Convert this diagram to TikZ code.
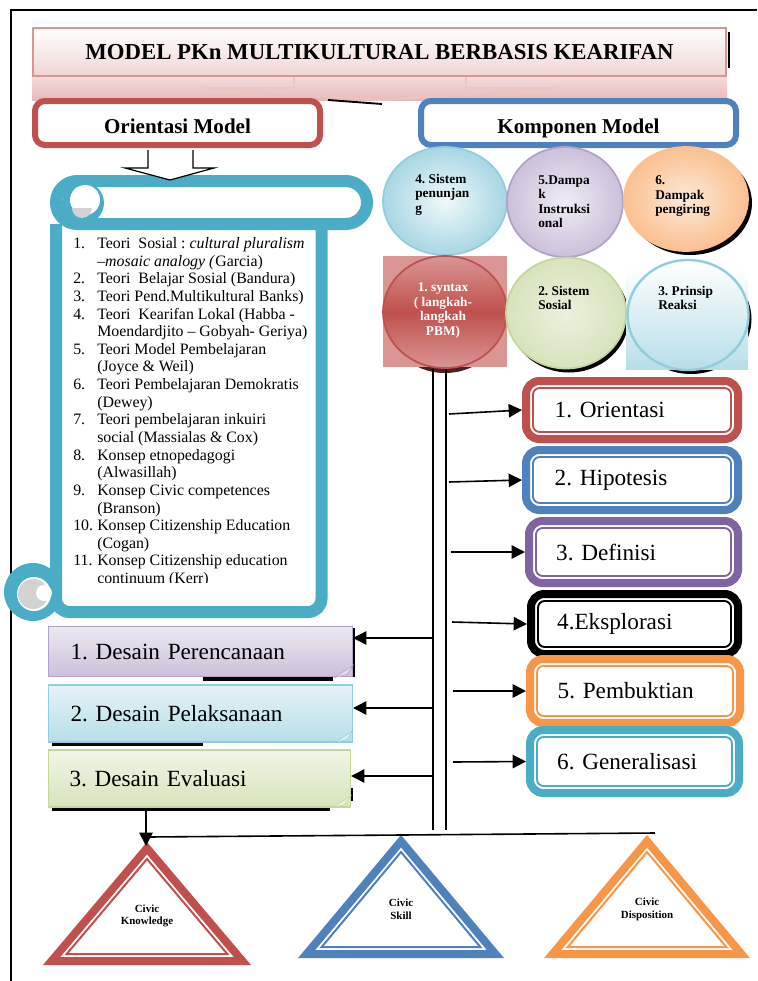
\documentclass[tikz,border=0pt]{standalone}
\usepackage{fontspec}
\setmainfont{Liberation Serif}
\usetikzlibrary{shapes.geometric,arrows.meta,calc}
\definecolor{cred}{HTML}{C0504D}
\definecolor{cblue}{HTML}{4F81BD}
\definecolor{cpurple}{HTML}{8064A2}
\definecolor{corange}{HTML}{F79646}
\definecolor{cteal}{HTML}{4BACC6}
\definecolor{cpink}{HTML}{D99594}
\definecolor{cpinkL}{HTML}{E6B9B8}
\definecolor{cpinkLL}{HTML}{F2DCDB}
\definecolor{tealL}{HTML}{B7DEE8}
\definecolor{tealLL}{HTML}{DAEEF3}
\definecolor{tealM}{HTML}{92CDDC}
\definecolor{purL}{HTML}{CCC0DA}
\definecolor{purLL}{HTML}{E5E0EC}
\definecolor{purM}{HTML}{B2A1C7}
\definecolor{orLL}{HTML}{FDE9D9}
\definecolor{orM}{HTML}{FAC090}
\definecolor{grL}{HTML}{D7E3BC}
\definecolor{grLL}{HTML}{EBF1DD}
\definecolor{grM}{HTML}{C3D69B}
\definecolor{redM}{HTML}{D99694}
\newcommand{\lnum}[1]{\makebox[18pt][l]{#1}}
\frenchspacing
\begin{document}
\begin{tikzpicture}[x=0.75pt,y=-0.75pt,
 hdr/.style={draw=#1, line width=4.5pt, rounded corners=7.5pt, fill=white, minimum height=33pt, inner sep=0pt, text height=15pt, text depth=0pt, font=\fontsize{15.8}{18}\selectfont\bfseries},
 oval/.style={ellipse, draw=#1, line width=1.3pt, inner sep=0pt},
 otext/.style={inner sep=0pt, align=left, font=\fontsize{10}{10.9}\selectfont\bfseries},
 stepbox/.style={draw=#1, line width=6pt, rounded corners=10pt, fill=white, text width=116pt, align=left, inner xsep=0pt, inner ysep=0pt, font=\fontsize{17.4}{20}\selectfont},
 dbox/.style={draw=#1, line width=0.8pt, text width=195pt, align=left, inner xsep=0pt, minimum width=228pt, font=\fontsize{17.4}{20}\selectfont},
 arr/.style={line width=1.2pt, -{Triangle[length=10pt,width=10pt]}},
 rail/.style={line width=1.1pt},
 tri/.style={line width=6pt, line join=miter, draw=#1},
 trin/.style={line width=1.5pt, draw=#1},
 ttext/.style={align=center, inner sep=0pt, font=\fontsize{8.2}{9.5}\selectfont\bfseries}]
\useasboundingbox (0,0) rectangle (757,981);
% frame
\draw[line width=1.1pt] (757,10) -- (11,10) -- (11,981);
% title band with arrow
\fill[top color=cpinkLL, bottom color=cpinkL] (32,77) rectangle (727,100);
\draw[cpink!55!white, line width=1.3pt, line join=round] (294,77) -- (294,88) -- (206,88) -- (383,100) -- (554,88) -- (466,88) -- (466,77);
\draw[line width=1.4pt] (328,100) -- (382,104);
\draw[line width=1.3pt] (729,32) -- (729,68);
\node[draw=cpink, line width=1.2pt, top color=white, bottom color=cpinkLL!80!cpinkL, minimum width=519.75pt, minimum height=36.3pt, inner sep=0pt, font=\fontsize{17.1}{20}\selectfont\bfseries] (title) at (379.5,52) {MODEL PKn MULTIKULTURAL BERBASIS KEARIFAN};
% headers
\node[hdr=cred, minimum width=213.75pt] (orient) at (177.5,123) {Orientasi Model};
\node[hdr=cblue, minimum width=236.25pt] (komp) at (578.5,123) {Komponen Model};
% scroll
\draw[cteal, line width=9pt, fill=white, rounded corners=10pt] (56,224) -- (56,612) -- (321.5,612) -- (321.5,224);
\draw[cteal, line width=9pt, fill=white, rounded corners=16pt] (56,181) rectangle (367,224);
\fill[cteal] (83,203) circle (21);
\fill[white] (85,200) circle (15);
\fill[gray!35] (92,208) arc (0:180:10) -- cycle;
\fill[cteal] (33,592) circle (29);
\fill[white] (34,594) circle (17);
\fill[gray!35] (33,594) circle (15);
\fill[white] (44,593) circle (8);
% block arrow
\draw[line width=0.9pt, fill=white] (148,150) -- (148,168) -- (125,168) -- (170,180) -- (214,168) -- (193,168) -- (193,150);
\begin{scope}
\clip (62,228) rectangle (318,582);
\node[anchor=north west, inner sep=0pt, font=\fontsize{11.9}{13.22}\selectfont] (list) at (73,236) {\begin{tabular}{@{}l@{}l@{}}
\lnum{1.} & Teori\ \ Sosial : \textit{cultural pluralism}\\
 & \textit{--mosaic analogy (}Garcia)\\
\lnum{2.} & Teori\ \ Belajar Sosial (Bandura)\\
\lnum{3.} & Teori Pend.Multikultural Banks)\\
\lnum{4.} & Teori\ \ Kearifan Lokal (Habba -\\
 & Moendardjito -- Gobyah- Geriya)\\
\lnum{5.} & Teori Model Pembelajaran\\
 & (Joyce \& Weil)\\
\lnum{6.} & Teori Pembelajaran Demokratis\\
 & (Dewey)\\
\lnum{7.} & Teori pembelajaran inkuiri\\
 & social (Massialas \& Cox)\\
\lnum{8.} & Konsep etnopedagogi\\
 & (Alwasillah)\\
\lnum{9.} & Konsep Civic competences\\
 & (Branson)\\
\lnum{10.} & Konsep Citizenship Education\\
 & (Cogan)\\
\lnum{11.} & Konsep Citizenship education\\
 & continuum (Kerr)
\end{tabular}};
\end{scope}
% component ovals: shadows and backgrounds
\fill[black] (690,203) ellipse [x radius=62, y radius=52];
\fill[black] (569,317) ellipse [x radius=60, y radius=55.5];
\fill[black] (691,319) ellipse [x radius=60.5, y radius=55];
\fill[black!60!cred] (445,317) ellipse [x radius=60, y radius=56];
\fill[redM] (383,256) rectangle (507,367);
\fill[top color=white, bottom color=tealL] (626,268) rectangle (748,369);
\node[oval=tealM, inner color=tealLL!40!white, outer color=tealL!85!cteal, minimum width=93pt, minimum height=81pt] (e4) at (445,201) {};
\node[oval=purM, inner color=purLL!60!white, outer color=purL, minimum width=87pt, minimum height=82.5pt] (e5) at (565,202) {};
\node[oval=orM, inner color=orLL, outer color=orM, minimum width=93pt, minimum height=78pt] (e6) at (686,199) {};
\node[oval=cred, top color=redM, bottom color=redM, middle color=cred, minimum width=93pt, minimum height=84pt] (syn) at (445,312) {};
\node[oval=grM, inner color=grLL, outer color=grL, minimum width=90pt, minimum height=83.25pt] (e2) at (566,313) {};
\node[oval=tealM, line width=1.8pt, top color=white, bottom color=tealL, minimum width=90.75pt, minimum height=82.5pt] (e3) at (688,315) {};
\node[otext, anchor=west] (e4t) at (415,194.5) {4. Sistem\\penunjan\\g};
\node[otext, anchor=west] (e5t) at (538,201.5) {5.Dampa\\k\\Instruksi\\onal};
\node[otext, anchor=west] (e6t) at (655,196.5) {6.\\Dampak\\pengiring};
\node[otext, align=center, text=white] (synt) at (443,310.5) {1. syntax\\( langkah-\\langkah\\PBM)};
\node[otext, anchor=west] (e2t) at (538,298) {2. Sistem\\Sosial};
\node[otext, anchor=west] (e3t) at (658,298) {3. Prinsip\\Reaksi};
% rails
\coordinate (railA) at (433,830);
\coordinate (railB) at (446,830);
\draw[rail] (railA |- syn.south) -- (railA);
\draw[rail] (railB |- syn.south) -- (railB);
% step boxes
\node[stepbox=cred, minimum width=159pt, minimum height=43.5pt] (o1) at (632,410) {1. Orientasi};
\node[stepbox=cblue, minimum width=159pt, minimum height=45pt] (o2) at (632,480) {2. Hipotesis};
\node[stepbox=cpurple, minimum width=156.75pt, minimum height=46.5pt] (o3) at (633.5,552) {3. Definisi};
\node[stepbox=black, minimum width=155.25pt, minimum height=45pt] (o4) at (634.5,624) {4.Eksplorasi};
\node[stepbox=corange, minimum width=157.5pt, minimum height=48pt] (o5) at (635,691) {5. Pembuktian};
\node[stepbox=cteal, minimum width=156.75pt, minimum height=47.25pt] (o6) at (634.5,761.5) {6. Generalisasi};
\foreach \n/\col in {o1/cred,o2/cblue,o3/cpurple,o4/black,o5/corange,o6/cteal}
  \draw[draw=\col, line width=1.4pt, rounded corners=5pt] ([shift={(11,11)}]\n.north west) rectangle ([shift={(-11,-11)}]\n.south east);
\coordinate (s1) at (449,414);
\coordinate (s2) at (449,482);
\coordinate (s3) at (451,552);
\coordinate (s4) at (452,622);
\coordinate (s5) at (453,691);
\coordinate (s6) at (453,762);
\foreach \s/\o in {s1/o1,s2/o2,s3/o3,s4/o4,s5/o5,s6/o6}
  \draw[arr] (\s) -- (\o.west);
% design boxes
\fill (203,676) rectangle (333,681);
\fill (52,741) rectangle (203,745.5);
\fill (52,806) rectangle (330,811);
\node[dbox=purM, top color=purLL!70!white, bottom color=purL, minimum height=38pt] (d1) at (200.5,651.5) {1. Desain Perencanaan};
\node[dbox=tealM, top color=tealLL!70!white, bottom color=tealL, minimum height=42.75pt] (d2) at (200.5,713.5) {2. Desain Pelaksanaan};
\node[dbox=grM, top color=grLL!70!white, bottom color=grL, minimum height=42.75pt, minimum width=226.5pt] (d3) at (199.5,778.5) {3. Desain Evaluasi};
\draw[line width=1.1pt] (354,628) -- (354,677);
\draw[line width=1.1pt] (352,788) -- (352,801);
\draw[purM, fill=purLL] ($(d1.south east)+(-18,0)$) -- ($(d1.south east)+(0,-12)$) -- ($(d1.south east)+(-6,-3)$) -- cycle;
\draw[tealM, fill=tealLL] ($(d2.south east)+(-18,0)$) -- ($(d2.south east)+(0,-12)$) -- ($(d2.south east)+(-6,-3)$) -- cycle;
\draw[grM, fill=grLL] ($(d3.south east)+(-18,0)$) -- ($(d3.south east)+(0,-12)$) -- ($(d3.south east)+(-6,-3)$) -- cycle;
\coordinate (l1) at (433,638);
\coordinate (l2) at (433,708);
\coordinate (l3) at (433,776);
\draw[arr] (l1) -- (l1 -| d1.east);
\draw[arr] (l2) -- (l2 -| d2.east);
\draw[arr] (l3) -- (l3 -| d3.east);
% triangles
\draw[tri=cred] (147,848.2) -- (51.6,961) -- (242.4,961) -- cycle;
\draw[trin=cred] (147,859) -- (66.7,954) -- (227.3,954) -- cycle;
\draw[tri=cblue] (401,841.2) -- (306.6,954) -- (495.4,954) -- cycle;
\draw[trin=cblue] (401,852) -- (321.7,947) -- (480.3,947) -- cycle;
\draw[tri=corange] (647,841.2) -- (552.6,954) -- (741.4,954) -- cycle;
\draw[trin=corange] (647,852) -- (567.7,947) -- (726.3,947) -- cycle;
\node[ttext] (tk) at (147,916) {Civic\\Knowledge};
\node[ttext] (ts) at (401,909.5) {Civic\\Skill};
\node[ttext] (td) at (647,909.5) {Civic\\Disposition};
% bottom connectors
\coordinate (kt) at (146,846);
\coordinate (hs) at (148,837);
\coordinate (he) at (655,833);
\draw[line width=1.2pt] (hs) -- (he);
\draw[arr] (d3.south -| kt) -- (kt);
\end{tikzpicture}
\end{document}
